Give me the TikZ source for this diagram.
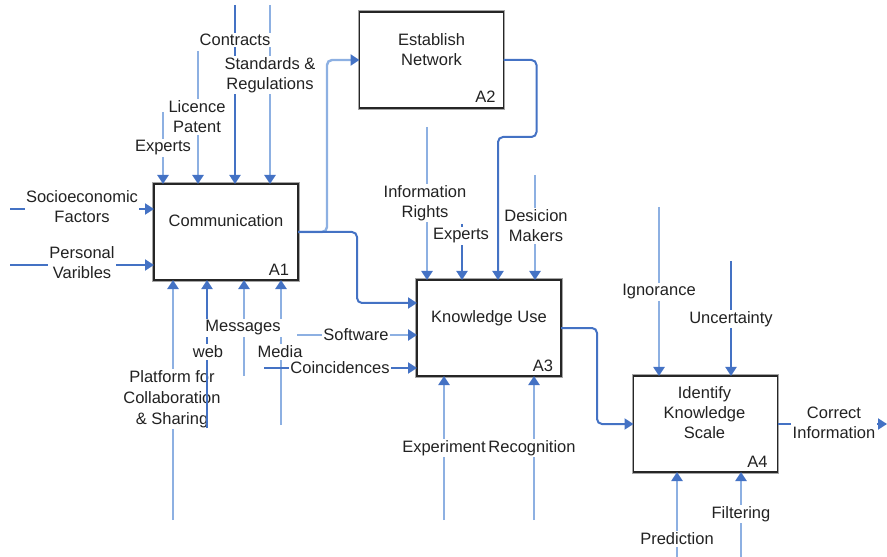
\documentclass[tikz,border=0pt]{standalone}
\usepackage{fontspec}
\setmainfont{Liberation Sans}
\usetikzlibrary{arrows.meta,calc}
\definecolor{fdark}{HTML}{4472C4}
\definecolor{flight}{HTML}{8DB0E2}
\definecolor{ink}{HTML}{222222}

\begin{document}
\begin{tikzpicture}[x=1bp,y=-1bp,
  every node/.style={font=\fontsize{16.5bp}{20bp}\selectfont, text=ink},
  procbox/.style={draw=black!85, line width=1.8bp, fill=white,
    preaction={draw=black!35, line width=3.8bp},
    minimum width=144bp, minimum height=96bp, inner sep=0pt, outer sep=0pt},
  boxtext/.style={align=center, inner sep=0pt},
  boxid/.style={inner sep=0pt},
  tip/.style={-{Triangle[width=11bp,length=9bp,color=fdark]}},
  flowdark/.style={draw=fdark, line width=2bp, rounded corners=5bp, tip},
  flowlight/.style={draw=flight, line width=2.4bp, rounded corners=5bp, tip},
  lbl/.style={fill=white, inner sep=1.5pt, align=center}
]
\useasboundingbox (0,0) rectangle (887,557);

% activity boxes
\node[procbox] (a1) at (226,232) {};
\node[procbox] (a2) at (431.5,60) {};
\node[procbox] (a3) at (489,328) {};
\node[procbox] (a4) at (705.5,424) {};

\node[boxtext] (t1) at ($(a1.center)+(0,-11)$) {Communication};
\node[boxtext] (t2) at ($(a2.center)+(0,-10)$) {Establish\\Network};
\node[boxtext] (t3) at ($(a3.center)+(0,-10)$) {Knowledge Use};
\node[boxtext] (t4) at ($(a4.center)+(-1,-11)$) {Identify\\Knowledge\\Scale};

\node[boxid] (id1) at ($(a1.south east)+(-19,-10)$) {A1};
\node[boxid] (id2) at ($(a2.south east)+(-18,-11)$) {A2};
\node[boxid] (id3) at ($(a3.south east)+(-18,-10)$) {A3};
\node[boxid] (id4) at ($(a4.south east)+(-20,-10)$) {A4};

% free ends of the boundary arrows
\coordinate (cExp1) at (163,112);
\coordinate (cLic)  at (198,51);
\coordinate (cCon)  at (235,5);
\coordinate (cStd)  at (270,5);
\coordinate (cSoc)  at (10,209);
\coordinate (cPer)  at (10,265);
\coordinate (cPlat) at (173,520);
\coordinate (cWeb)  at (207,428);
\coordinate (cMsg)  at (244,376);
\coordinate (cMed)  at (281,425);
\coordinate (cSoft) at (297,335);
\coordinate (cCoin) at (264,368);
\coordinate (cInf)  at (427,127);
\coordinate (cExp3) at (462,224);
\coordinate (cDec)  at (535,175);
\coordinate (cExpr) at (444,520);
\coordinate (cRec)  at (534,520);
\coordinate (cIgn)  at (659,207);
\coordinate (cUnc)  at (731,261);
\coordinate (cPre)  at (677,557);
\coordinate (cFil)  at (741,557);
\coordinate (cOut)  at (887,424);

% A1 controls and inputs
\draw[flowlight] (cExp1) -- (cExp1 |- a1.north);
\draw[flowlight] (cLic)  -- (cLic  |- a1.north);
\draw[flowdark]  (cCon)  -- (cCon  |- a1.north);
\draw[flowlight] (cStd)  -- (cStd  |- a1.north);
\draw[flowdark]  (cSoc)  -- (cSoc  -| a1.west);
\draw[flowdark]  (cPer)  -- (cPer  -| a1.west);

% A1 mechanisms
\draw[flowlight] (cPlat) -- (cPlat |- a1.south);
\draw[flowlight] (cMsg)  -- (cMsg  |- a1.south);
\draw[flowlight] (cMed)  -- (cMed  |- a1.south);

% A1 outputs
\draw[flowlight] (a1.east) -- ++(29,0) |- (a2.west);
\draw[flowdark]  (a1.east) -- ++(59,0) |- ($(a3.west)+(0,-25)$);

% A3 inputs
\draw[flowlight] (cSoft) -- (cSoft -| a3.west);
\draw[flowdark]  (cCoin) -- (cCoin -| a3.west);

% A2 output into A3
\draw[flowdark] (a2.east) -- ++(33,0) -- ++(0,77) -| ($(a3.north)+(9,0)$);

% A3 controls and mechanisms
\draw[flowlight] (cInf)  -- (cInf  |- a3.north);
\draw[flowdark]  (cExp3) -- (cExp3 |- a3.north);
\draw[flowlight] (cDec)  -- (cDec  |- a3.north);
\draw[flowlight] (cExpr) -- (cExpr |- a3.south);
\draw[flowlight] (cRec)  -- (cRec  |- a3.south);

% A3 output into A4
\draw[flowdark] (a3.east) -- ++(36,0) |- (a4.west);

% A4 controls, mechanisms and output
\draw[flowlight] (cIgn) -- (cIgn |- a4.north);
\draw[flowdark]  (cUnc) -- (cUnc |- a4.north);
\draw[flowlight] (cPre) -- (cPre |- a4.south);
\draw[flowlight] (cFil) -- (cFil |- a4.south);
\draw[flowdark]  (a4.east) -- (cOut);

% arrow labels
\node[lbl] (lCon)  at (235,40)  {Contracts};
\node[lbl] (lStd)  at (270,75)  {Standards \&\\Regulations};
\node[lbl] (lLic)  at (197,117) {Licence\\Patent};
\node[lbl] (lExp1) at (163,148) {Experts};
\node[lbl] (lSoc)  at (82,207)  {Socioeconomic\\Factors};
\node[lbl] (lPer)  at (82,263)  {Personal\\Varibles};
\node[lbl, font=\fontsize{16.5bp}{21bp}\selectfont] (lPlat) at (172,399) {Platform for\\Collaboration\\\& Sharing};

\draw[flowdark] (cWeb) -- (cWeb |- a1.south);

\node[lbl] (lWeb)  at (208,352) {web};
\node[lbl] (lMsg)  at (243,328) {Messages};
\node[lbl] (lMed)  at (280,352) {Media};
\node[lbl] (lSoft) at (356,335) {Software};
\node[lbl] (lCoin) at (340,368) {Coincidences};
\node[lbl] (lInf)  at (425,203) {Information\\Rights};
\node[lbl] (lExp3) at (461,236) {Experts};
\node[lbl] (lDec)  at (536,226) {Desicion\\Makers};
\node[lbl, inner xsep=0pt] (lExpr) at (444,448) {Experiment};
\node[lbl, inner xsep=0pt] (lRec)  at (532,448) {Recognition};
\node[lbl] (lIgn)  at (659,292) {Ignorance};
\node[lbl] (lUnc)  at (731,319) {Uncertainty};
\node[lbl] (lFil)  at (741,514) {Filtering};
\node[lbl] (lPre)  at (677,539) {Prediction};
\node[lbl] (lOut)  at (834,423) {Correct\\Information};
\end{tikzpicture}
\end{document}
